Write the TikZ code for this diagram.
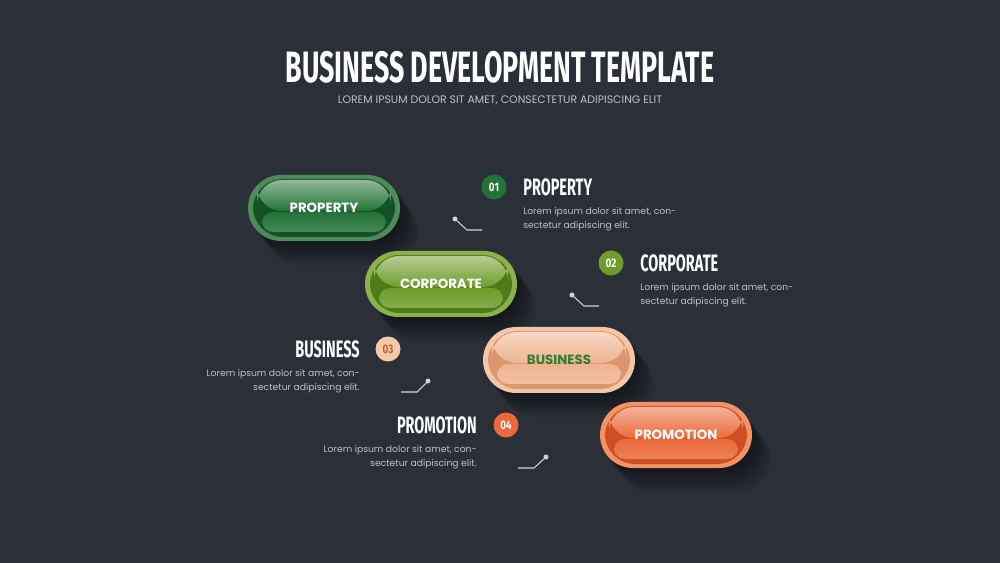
\documentclass[tikz,border=0pt]{standalone}
\usepackage{fontspec}
\usepackage{graphicx}
\setmainfont{Poppins}
\newfontfamily\headfont{Fira Sans}
\newcommand{\narrow}[2][0.61]{\scalebox{#1}[1]{#2}}

\definecolor{bgcol}{HTML}{2A2F38}
\definecolor{greyline}{HTML}{D0D4DA}
\definecolor{bodytext}{HTML}{BEC2C8}
% pill colours: rim / main / deep
\definecolor{propRim}{HTML}{4E8A5A}
\definecolor{propMain}{HTML}{237338}
\definecolor{propDeep}{HTML}{145226}
\definecolor{corpRim}{HTML}{8CB04A}
\definecolor{corpMain}{HTML}{6E9D2B}
\definecolor{corpDeep}{HTML}{4F7A1A}
\definecolor{busRim}{HTML}{F4C6A8}
\definecolor{busMain}{HTML}{EFB48F}
\definecolor{busDeep}{HTML}{D99770}
\definecolor{busText}{HTML}{2F7D36}
\definecolor{promRim}{HTML}{F39265}
\definecolor{promMain}{HTML}{EA6A3B}
\definecolor{promDeep}{HTML}{CC5024}
\definecolor{numThree}{HTML}{F6C9A8}
\definecolor{numThreeText}{HTML}{B5652E}

\tikzset{
  title/.style={font=\headfont\bfseries\fontsize{25}{30}\selectfont, text=white, inner sep=0pt},
  subtitle/.style={font=\fontsize{6.2}{8}\selectfont, text=bodytext, inner sep=0pt},
  pilltext/.style={font=\bfseries\fontsize{7.6}{9}\selectfont, inner sep=0pt},
  head/.style={font=\headfont\bfseries\fontsize{13.5}{16}\selectfont, text=white, inner sep=0pt},
  body/.style={font=\fontsize{5.25}{8}\selectfont, text=bodytext, inner sep=0pt},
  num/.style={circle, minimum size=25*0.02cm, inner sep=0pt, text=white,
    font=\headfont\bfseries\fontsize{7}{8}\selectfont},
  tick/.style={greyline, line width=0.6pt},
}

\begin{document}
\begin{tikzpicture}[x=0.02cm, y=-0.02cm]
\fill[bgcol] (0,0) rectangle (1000,563);
\useasboundingbox (0,0) rectangle (1000,563);

% heading
\node[title] (title) at (500,67) {\narrow{BUSINESS DEVELOPMENT TEMPLATE}};
\node[subtitle] (sub) at (500,100) {LOREM IPSUM DOLOR SIT AMET, CONSECTETUR ADIPISCING ELIT};

% glossy pills
\foreach \cx/\cy/\rim/\main/\deep/\txt/\tcol/\name in {
    324/208/propRim/propMain/propDeep/PROPERTY/white/p1,
    441/284/corpRim/corpMain/corpDeep/CORPORATE/white/p2,
    559/360/busRim/busMain/busDeep/BUSINESS/busText/p3,
    676/435/promRim/promMain/promDeep/PROMOTION/white/p4}{
  % soft shadow
  \foreach \s in {2,4,...,18}
    \fill[black, opacity=0.06, rounded corners=0.66cm]
      (\cx-76+\s,\cy-33+\s*1.3) rectangle (\cx+76+\s,\cy+33+\s*1.3);
  \fill[\rim, rounded corners=0.66cm] (\cx-76,\cy-33) rectangle (\cx+76,\cy+33);
  \fill[\deep, rounded corners=0.6cm] (\cx-71,\cy-29) rectangle (\cx+71,\cy+29);
  \shade[top color=\main!50!white, bottom color=\main, rounded corners=0.5cm]
    (\cx-67,\cy-28) rectangle (\cx+67,\cy+3);
  \shade[top color=\main, bottom color=\main!85!white, rounded corners=0.22cm]
    (\cx-62,\cy+4) rectangle (\cx+62,\cy+24);
  \node[pilltext, text=\tcol] (\name) at (\cx,\cy) {\txt};
}

% 01
\node[num, fill=propMain] (n1) at (494,187) {\narrow[0.8]{01}};
\node[head, anchor=west] (h1) at (523,187) {\narrow{PROPERTY}};
\node[body, anchor=north west, align=left] (b1) at (523,207)
  {Lorem ipsum dolor sit amet, con-\\sectetur adipiscing elit.};
\coordinate (d1) at (455,219);
\coordinate (k1) at (467,230);
\coordinate (e1) at (482,230);
\draw[tick] (d1) -- (k1) -- (e1);
\fill[greyline] (d1) circle (2.5);

% 02
\node[num, fill=corpMain] (n2) at (611,263) {\narrow[0.8]{02}};
\node[head, anchor=west] (h2) at (640,263) {\narrow{CORPORATE}};
\node[body, anchor=north west, align=left] (b2) at (640,283)
  {Lorem ipsum dolor sit amet, con-\\sectetur adipiscing elit.};
\coordinate (d2) at (572,295);
\coordinate (k2) at (584,306);
\coordinate (e2) at (599,306);
\draw[tick] (d2) -- (k2) -- (e2);
\fill[greyline] (d2) circle (2.5);

% 03
\node[num, fill=numThree, text=numThreeText] (n3) at (388,349) {\narrow[0.8]{03}};
\node[head, anchor=east] (h3) at (360,349) {\narrow{BUSINESS}};
\node[body, anchor=north east, align=right] (b3) at (360,369)
  {Lorem ipsum dolor sit amet, con-\\sectetur adipiscing elit.};
\coordinate (d3) at (428,381);
\coordinate (k3) at (417,392);
\coordinate (e3) at (401,392);
\draw[tick] (d3) -- (k3) -- (e3);
\fill[greyline] (d3) circle (2.5);

% 04
\node[num, fill=promMain] (n4) at (506,425) {\narrow[0.8]{04}};
\node[head, anchor=east] (h4) at (477,425) {\narrow{PROMOTION}};
\node[body, anchor=north east, align=right] (b4) at (477,445)
  {Lorem ipsum dolor sit amet, con-\\sectetur adipiscing elit.};
\coordinate (d4) at (546,457);
\coordinate (k4) at (534,468);
\coordinate (e4) at (518,468);
\draw[tick] (d4) -- (k4) -- (e4);
\fill[greyline] (d4) circle (2.5);
\end{tikzpicture}
\end{document}
